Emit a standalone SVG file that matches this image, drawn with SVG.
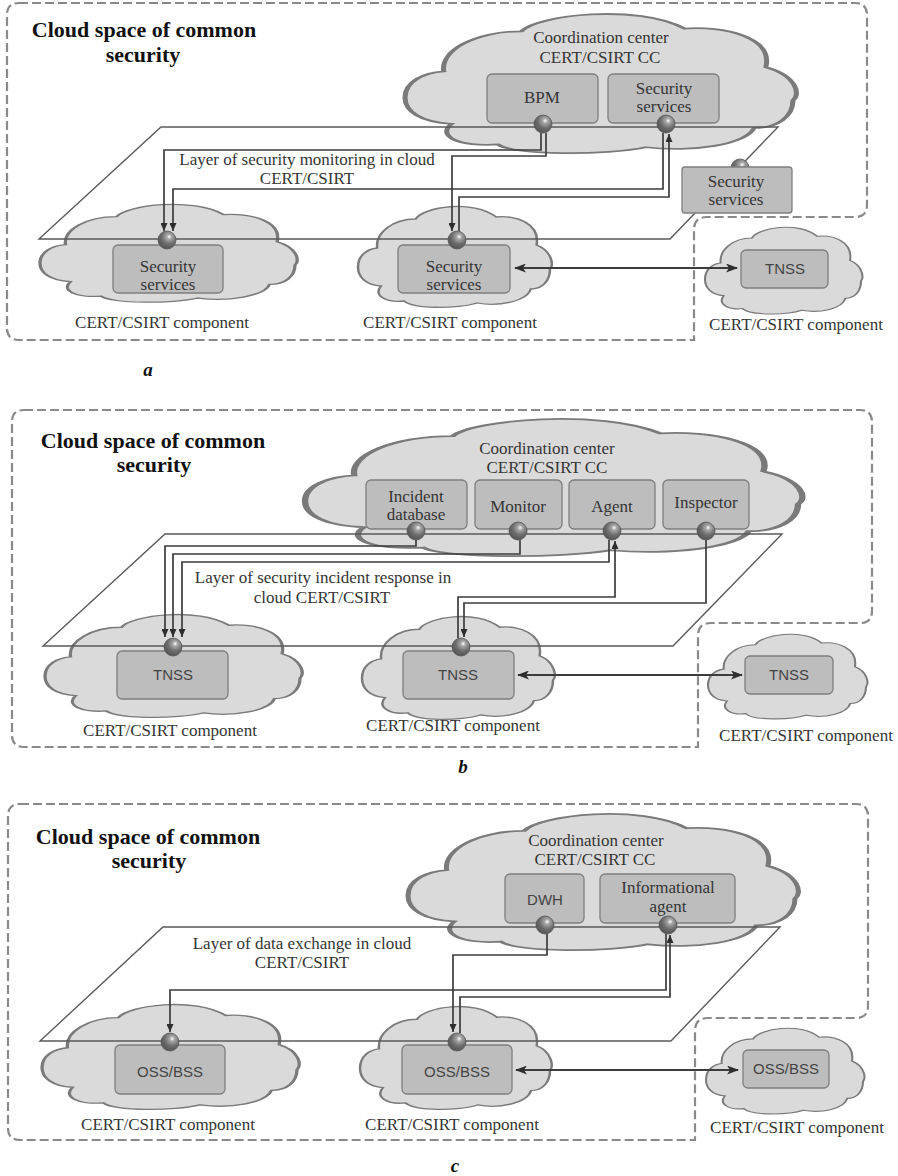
<svg xmlns="http://www.w3.org/2000/svg" width="898" height="1176" viewBox="0 0 898 1176">
  <style>
    .frame { fill: none; stroke: #8a8a8a; stroke-width: 2.2; stroke-dasharray: 9 4; }
    .cloud { fill: #dadada; stroke: #7a7a7a; stroke-width: 1.3; vector-effect: non-scaling-stroke; }
    .box { fill: #bdbdbd; stroke: #7f7f7f; stroke-width: 1.3; }
    .layer { fill: none; stroke: #5a5a5a; stroke-width: 1.4; }
    .wire { fill: none; stroke: #3c3c3c; stroke-width: 1.7; marker-end: url(#tip); }
    .link { fill: none; stroke: #3c3c3c; stroke-width: 2.2; marker-start: url(#head); marker-end: url(#head); }
    .port { fill: url(#sphere); stroke: #555; stroke-width: 0.8; }
    text { font-family: "Liberation Serif", "Times New Roman", serif; fill: #353535; text-anchor: middle; }
    .title { font-size: 22px; font-weight: bold; fill: #111; }
    .t17 { font-size: 17px; }
    .t16 { font-size: 17px; }
    .sans { font-family: "Liberation Sans", Arial, sans-serif; font-size: 15px; fill: #444; }
    .tag { font-size: 19px; font-weight: bold; font-style: italic; fill: #111; }
  </style>
  <defs>
    <path id="cloudShape" d="M 0,62 C 0,50 5,44 10,43 C 9,28 18,14 30,14 C 34,2 60,-6 72,12 C 82,10 95,18 93,40 C 101,46 102,60 100,64 C 100,76 96,84 90,84 C 88,96 74,102 62,98 C 52,104 28,104 24,96 C 14,98 8,90 12,81 C 4,80 0,72 0,62 Z"/>
    <radialGradient id="sphere" cx="0.62" cy="0.32" r="0.75">
      <stop offset="0" stop-color="#ffffff"/>
      <stop offset="0.18" stop-color="#a8a8a8"/>
      <stop offset="0.55" stop-color="#6c6c6c"/>
      <stop offset="1" stop-color="#4f4f4f"/>
    </radialGradient>
    <marker id="tip" markerUnits="userSpaceOnUse" markerWidth="8" markerHeight="7" refX="8" refY="3.5" orient="auto">
      <path d="M0,0 L8,3.5 L0,7 Z" fill="#2e2e2e"/>
    </marker>
    <marker id="head" markerUnits="userSpaceOnUse" markerWidth="12" markerHeight="9" refX="11" refY="4.5" orient="auto-start-reverse">
      <path d="M0,0 L12,4.5 L0,9 L3,4.5 Z" fill="#2e2e2e"/>
    </marker>
  </defs>
  <rect width="898" height="1176" fill="#ffffff"/>

  <!-- ===================== Panel a ===================== -->
  <g id="a-space">
    <path class="frame" d="M 19,3 H 855 Q 867,3 867,15 V 205 Q 867,217 855,217 H 707 Q 694,217 694,230 V 340 H 19 Q 7,340 7,328 V 15 Q 7,3 19,3 Z"/>
    <text class="title" x="144" y="37">Cloud space of common</text>
    <text class="title" x="143" y="62">security</text>
  </g>
  <g id="a-cc">
    <use href="#cloudShape" class="cloud" transform="translate(405,12) scale(3.88,1.38)"/>
    <text class="t17" x="601" y="43">Coordination center</text>
    <text class="t17" x="600" y="63">CERT/CSIRT CC</text>
    <rect class="box" x="487" y="74" width="111" height="49" rx="5"/>
    <text class="t17" x="542" y="103">BPM</text>
    <rect class="box" x="608" y="74" width="111" height="49" rx="5"/>
    <text class="t17" x="664" y="94">Security</text>
    <text class="t17" x="664" y="112">services</text>
  </g>
  <g id="a-comp1">
    <use href="#cloudShape" class="cloud" transform="translate(40,203) scale(2.55,0.97)"/>
    <rect class="box" x="113" y="245" width="110" height="48" rx="5"/>
    <text class="t17" x="168" y="272">Security</text>
    <text class="t17" x="168" y="290">services</text>
    <text class="t16" x="162" y="328">CERT/CSIRT component</text>
  </g>
  <g id="a-comp2">
    <use href="#cloudShape" class="cloud" transform="translate(358,205) scale(1.92,1.0)"/>
    <rect class="box" x="398" y="245" width="112" height="48" rx="5"/>
    <text class="t17" x="454" y="272">Security</text>
    <text class="t17" x="454" y="290">services</text>
    <text class="t16" x="450" y="328">CERT/CSIRT component</text>
  </g>
  <g id="a-comp3">
    <use href="#cloudShape" class="cloud" transform="translate(705,226) scale(1.56,0.86)"/>
    <rect class="box" x="741" y="250" width="87" height="38" rx="5"/>
    <text class="sans" x="785" y="274">TNSS</text>
    <text class="t16" x="796" y="330">CERT/CSIRT component</text>
  </g>
  <g id="a-layer">
    <path class="layer" d="M 161,127 L 778,127 L 670,239 L 39,239 Z"/>
    <text class="t17" x="307" y="165">Layer of security monitoring in cloud</text>
    <text class="t17" x="307" y="184">CERT/CSIRT</text>
  </g>
  <g id="a-edge-services">
    <circle class="port" cx="740" cy="168" r="9"/>
    <rect class="box" x="682" y="167" width="110" height="46" rx="3" stroke="#9a9a9a"/>
    <text class="t17" x="736" y="187">Security</text>
    <text class="t17" x="736" y="205">services</text>
  </g>
  <g id="a-connectors">
    <path class="wire" d="M 541,133 V 150 H 164 V 231"/>
    <path class="wire" d="M 546,133 V 156 H 452 V 231"/>
    <path class="wire" d="M 663,133 V 189 H 173 V 231"/>
    <path class="wire" d="M 459,231 V 197 H 669 V 134"/>
    <path class="link" d="M 515,268 H 737"/>
  </g>
  <g id="a-ports">
    <circle class="port" cx="543" cy="124" r="9"/>
    <circle class="port" cx="666" cy="124" r="9"/>
    <circle class="port" cx="167" cy="240" r="9"/>
    <circle class="port" cx="457" cy="240" r="9"/>
  </g>
  <text class="tag" x="148" y="376">a</text>

  <!-- ===================== Panel b ===================== -->
  <g id="b-space">
    <path class="frame" d="M 24,410 H 860 Q 872,410 872,422 V 611 Q 872,623 860,623 H 711 Q 698,623 698,636 V 747 H 24 Q 12,747 12,735 V 422 Q 12,410 24,410 Z"/>
    <text class="title" x="153" y="448">Cloud space of common</text>
    <text class="title" x="154" y="472">security</text>
  </g>
  <g id="b-cc">
    <use href="#cloudShape" class="cloud" transform="translate(305,417) scale(4.93,1.36)"/>
    <text class="t17" x="547" y="454">Coordination center</text>
    <text class="t17" x="547" y="473">CERT/CSIRT CC</text>
    <rect class="box" x="366" y="480" width="101" height="49" rx="5"/>
    <text class="t17" x="416" y="502">Incident</text>
    <text class="t17" x="416" y="520">database</text>
    <rect class="box" x="475" y="480" width="87" height="49" rx="5"/>
    <text class="t17" x="518" y="512">Monitor</text>
    <rect class="box" x="569" y="480" width="86" height="49" rx="5"/>
    <text class="t17" x="612" y="512">Agent</text>
    <rect class="box" x="663" y="480" width="86" height="49" rx="5"/>
    <text class="t17" x="706" y="508">Inspector</text>
  </g>
  <g id="b-comp1">
    <use href="#cloudShape" class="cloud" transform="translate(45,613) scale(2.55,1.02)"/>
    <rect class="box" x="117" y="651" width="111" height="48" rx="5"/>
    <text class="sans" x="173" y="680">TNSS</text>
    <text class="t16" x="170" y="736">CERT/CSIRT component</text>
  </g>
  <g id="b-comp2">
    <use href="#cloudShape" class="cloud" transform="translate(362,615) scale(1.91,1.02)"/>
    <rect class="box" x="403" y="651" width="111" height="48" rx="5"/>
    <text class="sans" x="458" y="680">TNSS</text>
    <text class="t16" x="453" y="731">CERT/CSIRT component</text>
  </g>
  <g id="b-comp3">
    <use href="#cloudShape" class="cloud" transform="translate(708,633) scale(1.58,0.84)"/>
    <rect class="box" x="745" y="656" width="88" height="38" rx="5"/>
    <text class="sans" x="789" y="680">TNSS</text>
    <text class="t16" x="806" y="741">CERT/CSIRT component</text>
  </g>
  <g id="b-layer">
    <path class="layer" d="M 165,534 L 782,534 L 673,646 L 43,646 Z"/>
    <text class="t17" x="323" y="583">Layer of security incident response in</text>
    <text class="t17" x="322" y="603">cloud CERT/CSIRT</text>
  </g>
  <g id="b-connectors">
    <path class="wire" d="M 416,540 V 546 H 165 V 637"/>
    <path class="wire" d="M 520,540 V 554 H 173 V 637"/>
    <path class="wire" d="M 609,540 V 562 H 182 V 637"/>
    <path class="wire" d="M 458,638 V 597 H 615 V 541"/>
    <path class="wire" d="M 706,540 V 603 H 464 V 637"/>
    <path class="link" d="M 518,675 H 742"/>
  </g>
  <g id="b-ports">
    <circle class="port" cx="416" cy="531" r="9"/>
    <circle class="port" cx="518" cy="531" r="9"/>
    <circle class="port" cx="612" cy="531" r="9"/>
    <circle class="port" cx="706" cy="531" r="9"/>
    <circle class="port" cx="173" cy="647" r="9"/>
    <circle class="port" cx="461" cy="647" r="9"/>
  </g>
  <text class="tag" x="463" y="773">b</text>

  <!-- ===================== Panel c ===================== -->
  <g id="c-space">
    <path class="frame" d="M 20,804 H 856 Q 868,804 868,816 V 1006 Q 868,1018 856,1018 H 708 Q 695,1018 695,1031 V 1140 H 20 Q 8,1140 8,1128 V 816 Q 8,804 20,804 Z"/>
    <text class="title" x="148" y="844">Cloud space of common</text>
    <text class="title" x="149" y="868">security</text>
  </g>
  <g id="c-cc">
    <use href="#cloudShape" class="cloud" transform="translate(408,812) scale(3.87,1.35)"/>
    <text class="t17" x="596" y="846">Coordination center</text>
    <text class="t17" x="595" y="865">CERT/CSIRT CC</text>
    <rect class="box" x="505" y="874" width="79" height="49" rx="5"/>
    <text class="sans" x="545" y="905">DWH</text>
    <rect class="box" x="600" y="874" width="135" height="49" rx="5"/>
    <text class="t17" x="668" y="893">Informational</text>
    <text class="t17" x="668" y="912">agent</text>
  </g>
  <g id="c-comp1">
    <use href="#cloudShape" class="cloud" transform="translate(42,1003) scale(2.55,1.04)"/>
    <rect class="box" x="115" y="1045" width="110" height="49" rx="5"/>
    <text class="sans" x="170" y="1077">OSS/BSS</text>
    <text class="t16" x="168" y="1130">CERT/CSIRT component</text>
  </g>
  <g id="c-comp2">
    <use href="#cloudShape" class="cloud" transform="translate(360,1005) scale(1.90,1.02)"/>
    <rect class="box" x="402" y="1045" width="110" height="49" rx="5"/>
    <text class="sans" x="457" y="1077">OSS/BSS</text>
    <text class="t16" x="452" y="1130">CERT/CSIRT component</text>
  </g>
  <g id="c-comp3">
    <use href="#cloudShape" class="cloud" transform="translate(706,1027) scale(1.57,0.85)"/>
    <rect class="box" x="743" y="1050" width="86" height="38" rx="5"/>
    <text class="sans" x="786" y="1074">OSS/BSS</text>
    <text class="t16" x="797" y="1133">CERT/CSIRT component</text>
  </g>
  <g id="c-layer">
    <path class="layer" d="M 163,927 L 780,927 L 671,1041 L 40,1041 Z"/>
    <text class="t17" x="302" y="949">Layer of data exchange in cloud</text>
    <text class="t17" x="302" y="968">CERT/CSIRT</text>
  </g>
  <g id="c-connectors">
    <path class="wire" d="M 547,934 V 955 H 453 V 1032"/>
    <path class="wire" d="M 666,934 V 990 H 170 V 1032"/>
    <path class="wire" d="M 460,1033 V 997 H 670 V 935"/>
    <path class="link" d="M 516,1070 H 738"/>
  </g>
  <g id="c-ports">
    <circle class="port" cx="545" cy="925" r="9"/>
    <circle class="port" cx="668" cy="925" r="9"/>
    <circle class="port" cx="170" cy="1042" r="9"/>
    <circle class="port" cx="457" cy="1042" r="9"/>
  </g>
  <text class="tag" x="455" y="1172">c</text>
</svg>
